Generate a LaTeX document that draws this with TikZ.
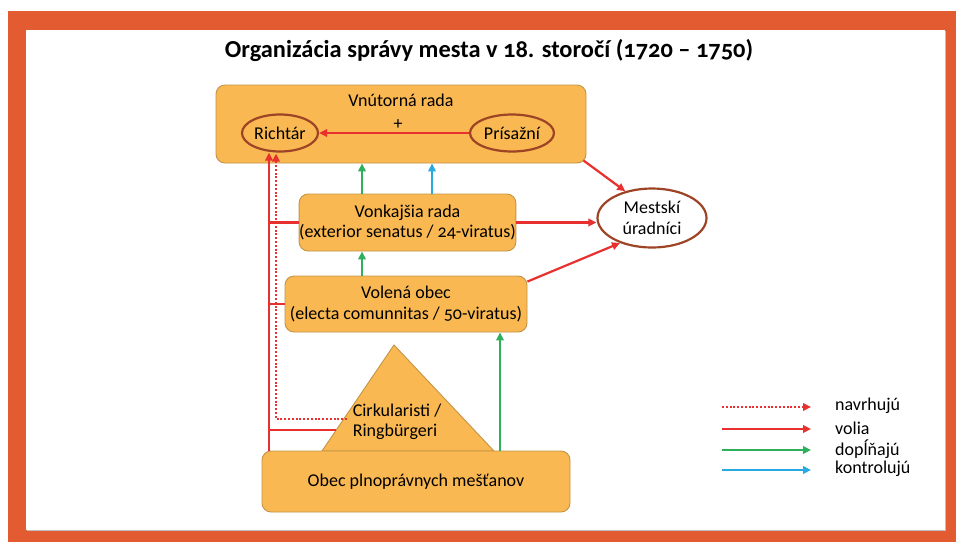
\documentclass[tikz,border=0pt]{standalone}
\usepackage{fontspec}
\setmainfont{Carlito}[Numbers=OldStyle]
\usetikzlibrary{arrows.meta,shapes.geometric,calc}
\definecolor{frameor}{HTML}{E35B31}
\definecolor{boxfill}{HTML}{F9B851}
\definecolor{boxline}{HTML}{C39446}
\definecolor{ellline}{HTML}{9E4426}
\definecolor{redc}{HTML}{E8302E}
\definecolor{greenc}{HTML}{2DAF5C}
\definecolor{bluec}{HTML}{27A9E1}
\tikzset{
  x=1pt,y=-1pt,
  every node/.style={font=\fontsize{18}{20.5}\selectfont, inner sep=0pt},
  boxst/.style={draw=boxline, fill=boxfill, rounded corners=9pt, line width=0.9pt},
  ellst/.style={draw=ellline, ellipse, line width=2.2pt},
  tip/.style={-{Triangle[length=8pt,width=7.5pt]}},
  volia/.style={draw=redc, line width=2.2pt},
  navrh/.style={draw=redc, line width=2.2pt, dash pattern=on 2pt off 1.8pt},
  dopl/.style={draw=greenc, line width=2.2pt},
  kontr/.style={draw=bluec, line width=2.2pt},
}
\begin{document}
\begin{tikzpicture}
% frame
\fill[frameor] (0,0) rectangle (956,542);
\fill[white] (0,0) rectangle (956,11);
\fill[white] (0,0) rectangle (8,542);
\fill[gray!50] (27,31) rectangle (946,531);
\fill[white] (26,30) rectangle (945,530);
\useasboundingbox (0,0) rectangle (956,542);

\node[font=\fontsize{24.4}{28}\selectfont\bfseries] (title) at (489,51) {Organizácia správy mesta v 18. storočí (1720 – 1750)};

% boxes
\node[boxst, minimum width=370pt, minimum height=78pt] (vnut) at (401,124) {};
\node (vnutt) at (401,100) {Vnútorná rada};
\node[ellst, fill=boxfill, minimum width=76pt, minimum height=37pt] (richtar) at (280,133) {Richtár};
\node[ellst, fill=boxfill, minimum width=84pt, minimum height=37pt] (prisaz) at (512,133) {Prísažní};
\node (plus) at (398,125) {+};

\node[boxst, minimum width=215pt, minimum height=57pt, align=center] (vonk) at (407.5,222.5) {Vonkajšia rada\\(exterior senatus / 24-viratus)};
\node[boxst, minimum width=242pt, minimum height=56pt, align=center] (volena) at (406,304) {Volená obec\\(electa comunnitas / 50-viratus)};
\node[ellst, fill=white, minimum width=109pt, minimum height=59pt, align=center] (mest) at (652,218) {Mestskí\\úradníci};

% triangle
\coordinate (apex) at (394,345);
\coordinate (tl) at (322,451);
\coordinate (tr) at (494,451);
\filldraw[fill=boxfill, draw=boxline, line width=0.9pt] (tl) -- (apex) -- (tr) -- cycle;
\node[align=left] (cirk) at (397,422) {Cirkularisti /\\Ringbürgeri};

\node[boxst, minimum width=308pt, minimum height=61pt] (obec) at (416,481.5) {Obec plnoprávnych mešťanov};

% connectors
\coordinate (rx) at (269,0);
\coordinate (dx) at (276,0);
\coordinate (tri1) at ($(tl)!0.2!(apex)$);
\coordinate (tri2) at (347,419);
\draw[volia, tip] (rx |- obec.north) -- (rx |- richtar.south);
\draw[volia] (rx |- vonk.west) -- (vonk.west);
\draw[volia] (rx |- volena.west) -- (volena.west);
\draw[volia] (rx |- tri1) -- (tri1);
\draw[navrh, tip] (tri2) -| ([yshift=-1pt]dx |- richtar.south);
\draw[volia, tip] (prisaz.west) -- (richtar.east);

\draw[dopl, tip] (362,194) coordinate (g1) -- (g1 |- vnut.south);
\draw[kontr, tip] (432,194) coordinate (b1) -- (b1 |- vnut.south);
\draw[dopl, tip] (362,276) coordinate (g2) -- (g2 |- vonk.south);
\draw[dopl, tip] (500,451) coordinate (g3) -- (g3 |- volena.south);

\draw[volia, tip] (vnut.south east) ++(-3,-3) coordinate (m1) -- (mest.135);
\draw[volia, tip] (vonk.east) -- (mest.west |- vonk.east);
\draw[volia, tip] ([yshift=-6pt]volena.north east) coordinate (m3) -- (mest.218);

% legend
\coordinate (l1a) at (722,407); \coordinate (l1b) at (811,407);
\coordinate (l2a) at (722,429); \coordinate (l2b) at (811,429);
\coordinate (l3a) at (722,450); \coordinate (l3b) at (811,450);
\coordinate (l4a) at (722,470); \coordinate (l4b) at (811,470);
\draw[navrh, tip] (l1a) -- (l1b);
\draw[volia, tip] (l2a) -- (l2b);
\draw[dopl, tip] (l3a) -- (l3b);
\draw[kontr, tip] (l4a) -- (l4b);
\node[anchor=west] (t1) at (835,406) {navrhujú};
\node[anchor=west] (t2) at (835,428) {volia};
\node[anchor=west] (t3) at (835,449) {dopĺňajú};
\node[anchor=west] (t4) at (835,469) {kontrolujú};
\end{tikzpicture}
\end{document}
